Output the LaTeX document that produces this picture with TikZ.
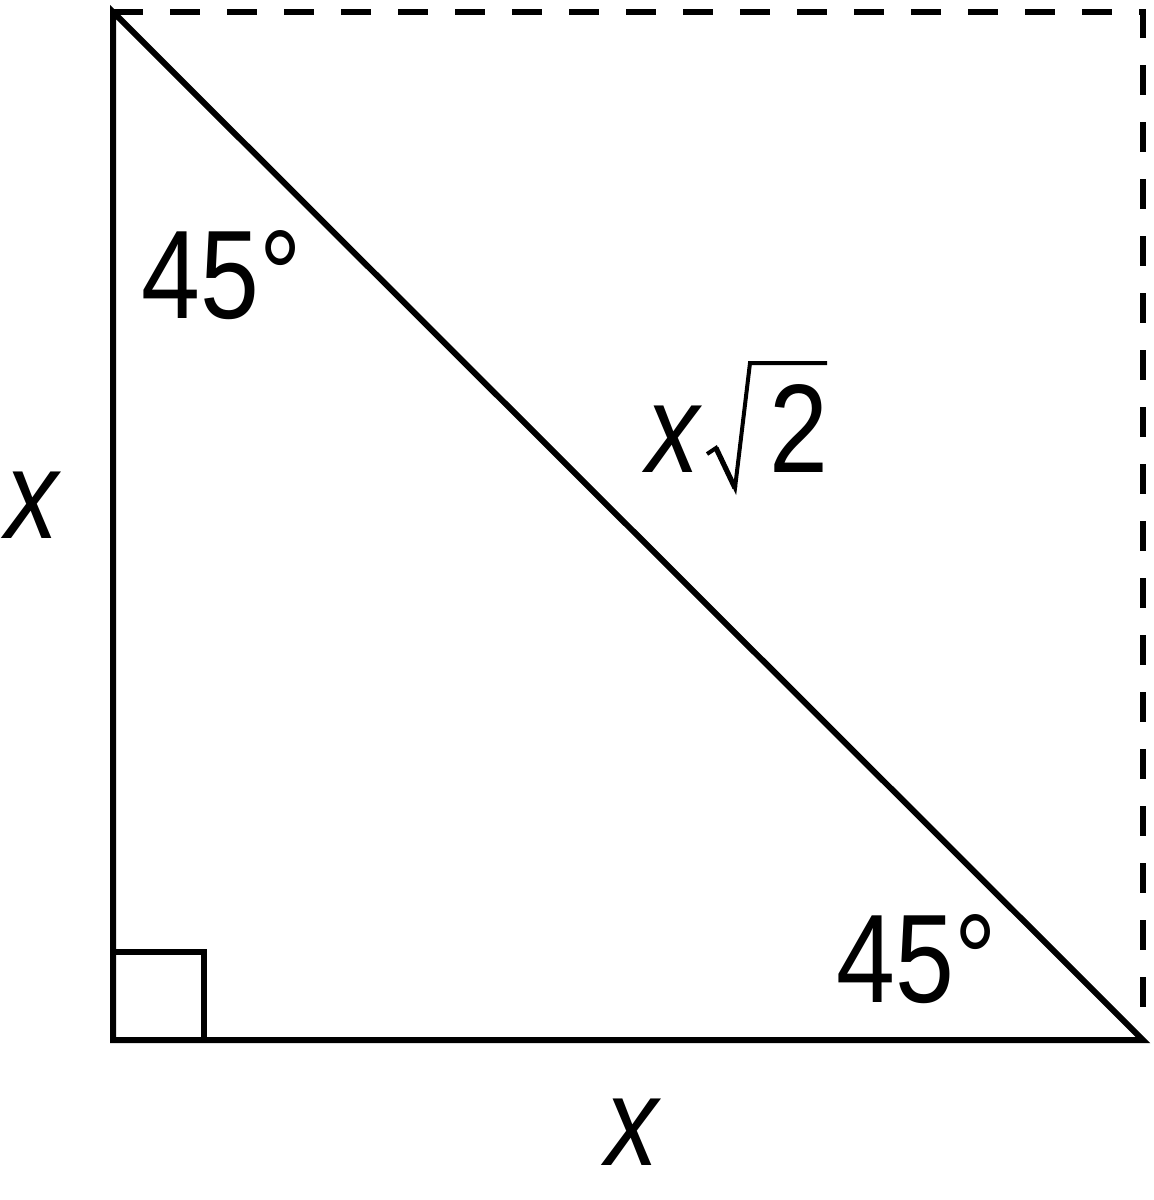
\documentclass[tikz,border=0pt]{standalone}
\usepackage{fontspec}
\setmainfont{Liberation Sans}[FakeStretch=0.84]
\begin{document}
\begin{tikzpicture}[x=0.5pt,y=-0.5pt,
  side/.style={line width=3pt,line join=miter},
  guide/.style={line width=3pt,dash pattern=on 15pt off 13.5pt},
  surd/.style={line width=2pt,line join=miter},
  lbl/.style={inner sep=0pt,anchor=base west,font=\fontsize{63}{75}\selectfont}]
\useasboundingbox (0,0) rectangle (1153,1200);
\coordinate (A) at (113,12);
\coordinate (B) at (113,1040);
\coordinate (C) at (1143,1040);
\coordinate (D) at (1143,12);
\draw[guide] (A) -- (D) -- (1143,1030);
\draw[side] (A) -- (B) -- (C) -- cycle;
\coordinate (r1) at (113,952);
\coordinate (r2) at (204,952);
\coordinate (r3) at (204,1040);
\draw[side] (r1) -- (r2) -- (r3);
\node[lbl] (a1) at (141,318) {45°};
\node[lbl] (a2) at (836,1002) {45°};
\node[lbl] (hx) at (646,472) {\itshape x};
\node[lbl] (h2) at (769,472) {2};
\coordinate (s0) at (707,454);
\coordinate (s1) at (716,448);
\coordinate (s2) at (735,488);
\coordinate (s3) at (750,363);
\coordinate (s4) at (827,363);
\draw[surd] (s0) -- (s1) -- (s2) -- (s3) -- (s4);
\draw[line width=2.6pt] (s1) -- (s2);
\node[lbl] (l) at (5,538) {\itshape x};
\node[lbl] (b) at (605,1165) {\itshape x};
\end{tikzpicture}
\end{document}
